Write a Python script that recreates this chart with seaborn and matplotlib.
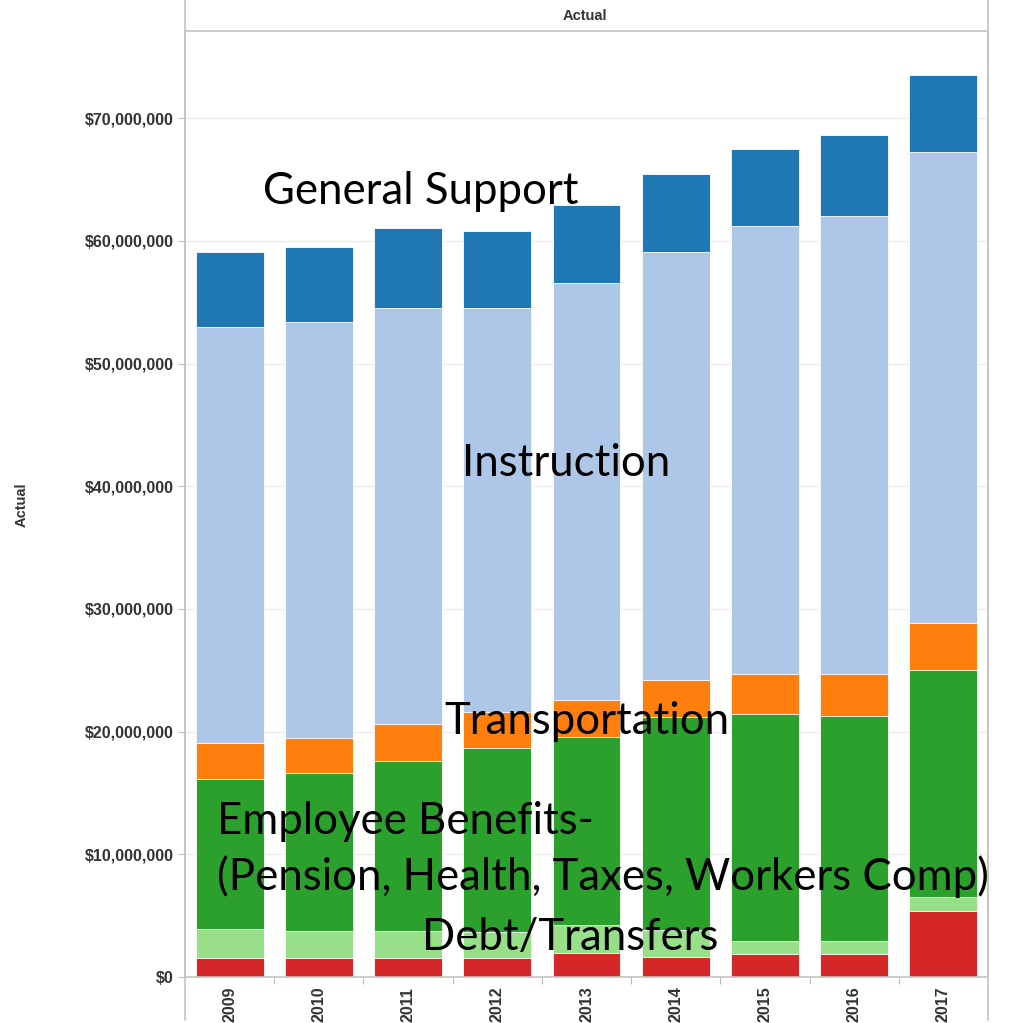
import numpy as np
import pandas as pd
import matplotlib
matplotlib.use("Agg")
import matplotlib.pyplot as plt
import seaborn as sns
from matplotlib.lines import Line2D
from matplotlib.ticker import FuncFormatter, MultipleLocator, FixedLocator

# ---------------- data (US$ millions) ----------------
years = ["2009", "2010", "2011", "2012", "2013", "2014", "2015", "2016", "2017"]
debt = [1.52, 1.52, 1.52, 1.52, 1.98, 1.66, 1.87, 1.87, 5.40]
transfers = [2.37, 2.23, 2.23, 2.17, 2.26, 2.17, 1.06, 1.06, 1.10]
employee_benefits = [12.25, 12.88, 13.83, 14.95, 15.34, 17.33, 18.53, 18.32, 18.52]
transportation = [2.96, 2.85, 3.07, 2.96, 2.97, 3.04, 3.21, 3.42, 3.81]
instruction = [33.89, 33.87, 33.90, 32.95, 34.01, 34.85, 36.51, 37.35, 38.38]
general_support = [6.06, 6.17, 6.52, 6.28, 6.38, 6.37, 6.27, 6.60, 6.27]

series_names = ["Debt", "Transfers", "Employee Benefits", "Transportation",
                "Instruction", "General Support"]
series_values = [debt, transfers, employee_benefits, transportation,
                 instruction, general_support]
series_colors = ["#d62728", "#98df8a", "#2ca02c", "#ff7f0e", "#aec7e8", "#1f77b4"]

df = pd.DataFrame({"Year": years})
running = np.zeros(len(years))
for name, vals in zip(series_names, series_values):
    running = running + np.array(vals) * 1e6
    df[name] = running

# ---------------- figure ----------------
sns.set_style("white")
plt.rcParams['font.family'] = ['Liberation Sans', 'DejaVu Sans']

W, H = 1025, 1023
fig = plt.figure(figsize=(W / 100, H / 100), dpi=100)
ax_left, ax_right, ax_bottom, ax_top = 185, 988, 977, 31
ax = fig.add_axes([ax_left / W, 1 - ax_bottom / H,
                   (ax_right - ax_left) / W, (ax_bottom - ax_top) / H])

# draw from top layer (largest cumulative) to bottom so lower layers overlay
for name, color in reversed(list(zip(series_names, series_colors))):
    sns.barplot(data=df, x="Year", y=name, color=color, saturation=1,
                width=0.76, errorbar=None, edgecolor="#ffffff",
                linewidth=0.6, ax=ax)

ax.set_xlim(-0.5, len(years) - 0.5)
ax.set_ylim(0, 77.1e6)
ax.set_xlabel("")
ax.set_ylabel("")

ax.yaxis.set_major_locator(MultipleLocator(10e6))
ax.yaxis.set_major_formatter(FuncFormatter(
    lambda v, p: "$0" if v == 0 else f"${v:,.0f}"))
ax.grid(axis="y", color="#ececec", linewidth=1)
ax.grid(axis="x", visible=False)
ax.set_axisbelow(True)

for lbl in ax.get_yticklabels():
    lbl.set_fontweight("bold")
    lbl.set_fontsize(11.5)
    lbl.set_color("#333333")
ax.tick_params(axis="y", length=5, width=0.8, color="#bbbbbb", pad=3,
               direction="out", left=True)

ax.set_xticks(range(len(years)))
ax.set_xticklabels(years, rotation=90, fontsize=11.5, fontweight="bold",
                   color="#333333")
ax.tick_params(axis="x", length=0, pad=7)
ax.xaxis.set_minor_locator(FixedLocator(np.arange(0.5, len(years) - 1, 1.0)))
ax.tick_params(axis="x", which="minor", length=5, width=0.8, color="#bbbbbb",
               direction="out", bottom=True)

for s in ["left", "right", "top", "bottom"]:
    ax.spines[s].set_visible(True)
    ax.spines[s].set_color("#c4c4c4")
    ax.spines[s].set_linewidth(1.2)

# frame lines extending through header and tick-label band
for px in (ax_left, ax_right):
    fig.add_artist(Line2D([px / W, px / W], [1 - 0 / H, 1 - 1020 / H],
                          color="#c4c4c4", linewidth=1.2))

# header and axis title
fig.text(585 / W, 1 - 16 / H, "Actual", ha="center", va="center",
         fontsize=10.5, fontweight="bold", color="#333333")
fig.text(22 / W, 1 - 505 / H, "Actual", ha="center", va="center",
         rotation=90, fontsize=10.5, fontweight="bold", color="#333333")

# ---------------- overlay annotations ----------------
ann_font = ["Lato", "DejaVu Sans"]
annotations = [
    ("General Support", 263, 192),
    ("Instruction", 462, 464),
    ("Transportation", 444, 722),
    ("Employee Benefits-", 217, 822),
    ("(Pension, Health, Taxes, Workers Comp)", 217, 877),
    ("Debt/Transfers", 422, 937),
]
for txt, px, py in annotations:
    fig.text(px / W, 1 - py / H, txt, ha="left", va="center",
             fontsize=31.5, family=ann_font, color="black")

fig.savefig("out.png", dpi=100)
